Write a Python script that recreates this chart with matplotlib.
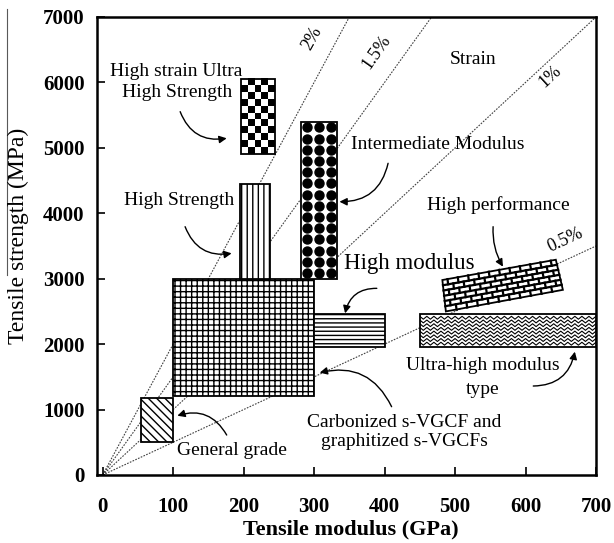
import matplotlib
matplotlib.use("Agg")
import matplotlib.pyplot as plt
from matplotlib.patches import Rectangle, Polygon
from matplotlib.lines import Line2D
import numpy as np

plt.rcParams['font.family'] = ['Liberation Serif', 'DejaVu Serif']
plt.rcParams['hatch.linewidth'] = 1.0

# box extents: [modulus min, modulus max, strength min, strength max]
general_grade = [55, 100, 500, 1180]
carbonized = [100, 300, 1200, 3000]
high_strength = [195, 237, 3000, 4450]
high_strain_uhs = [197, 245, 4900, 6050]
intermediate_modulus = [282, 332, 3000, 5400]
high_modulus = [300, 400, 1950, 2460]
ultra_high_modulus = [450, 700, 1950, 2460]
# tilted box, corners BL, BR, TR, TL
high_perf_x = [487, 653, 643, 482]
high_perf_y = [2500, 2830, 3290, 2980]

strain_pct = [2, 1.5, 1, 0.5]
strain_labels = ['2%', '1.5%', '1%', '0.5%']

x_ticks = [0, 100, 200, 300, 400, 500, 600, 700]
y_ticks = [0, 1000, 2000, 3000, 4000, 5000, 6000, 7000]

fig = plt.figure(figsize=(6.14, 5.43), dpi=100)
ax = fig.add_axes([97/614, 1-475/543, 499/614, 458/543])

# strain lines: stress [MPa] = strain * modulus [GPa] * 10
xs = np.array([0, 700])
for s in strain_pct:
    ax.plot(xs, xs*s*10, color='0.25', lw=0.8, ls=(0, (1.5, 1.2)), zorder=1)


def box(b, **kw):
    r = Rectangle((b[0], b[2]), b[1]-b[0], b[3]-b[2], facecolor='white',
                  edgecolor='black', lw=1.3, zorder=3, **kw)
    ax.add_patch(r)
    return r


box(general_grade, hatch='\\\\\\\\')
box(carbonized, hatch='+++')
box(high_strength, hatch='|||')
box(high_modulus, hatch='----')

# checkerboard
r = box(high_strain_uhs)
checker = np.indices((11, 5)).sum(axis=0) % 2
ax.imshow(checker, extent=high_strain_uhs, cmap='gray_r', interpolation='nearest',
          aspect='auto', zorder=3.5)
r.set_facecolor('none')
r.set_zorder(4)

# dots
b = intermediate_modulus
box(b)
gx = b[0] + (np.arange(3)+0.5)*(b[1]-b[0])/3
gy = b[2] + (np.arange(14)+0.5)*(b[3]-b[2])/14
mx, my = np.meshgrid(gx, gy)
ax.scatter(mx.ravel(), my.ravel(), s=42, marker='o', color='black', zorder=4)

# wavy lines
b = ultra_high_modulus
r = box(b)
rows = np.linspace(b[2], b[3], 10)[1:-1]
zx = np.arange(b[0], b[1]+5, 5)
for yy in rows:
    zy = yy + 22*np.where(np.arange(len(zx)) % 2 == 0, 1, -1)
    ln, = ax.plot(zx, zy, color='black', lw=0.8, zorder=4)
    ln.set_clip_path(r)

# bricks on the tilted box
corners = np.array([high_perf_x, high_perf_y]).T
poly = Polygon(corners, closed=True, facecolor='white', edgecolor='black', lw=1.3, zorder=3)
ax.add_patch(poly)


def bil(u, v):
    bl, br, tr, tl = corners
    return (1-u)*(1-v)*bl + u*(1-v)*br + u*v*tr + (1-u)*v*tl


nrow, ncol = 6, 11
for k in range(1, nrow):
    p = np.array([bil(0, k/nrow), bil(1, k/nrow)])
    ax.plot(p[:, 0], p[:, 1], color='black', lw=1.6, zorder=4)
for k in range(nrow):
    for j in range(ncol+1):
        u = (j + 0.5*(k % 2))/ncol
        if 0 < u < 1:
            p = np.array([bil(u, k/nrow), bil(u, (k+1)/nrow)])
            ax.plot(p[:, 0], p[:, 1], color='black', lw=1.6, zorder=4)

# labels
tk = dict(fontsize=14, ha='center', va='center', zorder=6)
ax.text(105, 6000, 'High strain Ultra\nHigh Strength', linespacing=1.3, **tk)
ax.text(109, 4190, 'High Strength', **tk)
ax.text(476, 5045, 'Intermediate Modulus', **tk)
ax.text(435, 3240, 'High modulus', fontsize=16.5, ha='center', va='center')
ax.text(562, 4127, 'High performance', **tk)
ax.text(539, 1490, 'Ultra-high modulus\ntype', linespacing=1.55, **tk)
ax.text(428, 657, 'Carbonized s-VGCF and\ngraphitized s-VGCFs', linespacing=1.15, **tk)
ax.text(183, 382, 'General grade', **tk)
ax.text(525, 6343, 'Strain', **tk)

label_pos = [(297, 6675, 61), (389, 6470, 55), (635, 6088, 43), (656, 3592, 25)]
for lab, (x, y, rot) in zip(strain_labels, label_pos):
    ax.text(x, y, lab, fontsize=13, rotation=rot, ha='center', va='center')

arrows = [((110, 5553), (176, 5146), 0.4),
          ((117, 3795), (183, 3388), 0.4),
          ((405, 4764), (336, 4177), -0.4),
          ((389, 2853), (344, 2471), 0.4),
          ((554, 3795), (568, 3184), 0.15),
          ((611, 1360), (670, 1885), 0.4),
          ((410, 1044), (308, 1564), 0.4),
          ((176, 611), (106, 906), 0.4)]
for start, end, rad in arrows:
    ax.annotate('', xy=end, xytext=start,
                arrowprops=dict(arrowstyle='-|>', connectionstyle=f'arc3,rad={rad}',
                                color='black', lw=1.0, mutation_scale=11,
                                shrinkA=0, shrinkB=0), zorder=6)

ax.set_xlim(-8, 700)
ax.set_ylim(0, 7000)
ax.set_xticks(x_ticks)
ax.set_yticks(y_ticks)
ax.tick_params(direction='in', length=6, width=1.2, top=False, right=False)
ax.tick_params(axis='x', pad=16)
ax.tick_params(axis='y', pad=9)
for t in ax.get_xticklabels() + ax.get_yticklabels():
    t.set_fontsize(15)
    t.set_fontweight('bold')
for sp in ax.spines.values():
    sp.set_linewidth(1.8)

fig.text(351/614, 1-529/543, 'Tensile modulus (GPa)', fontsize=16, fontweight='bold',
         ha='center', va='center')
fig.text(18/614, 1-236/543, 'Tensile strength (MPa)', fontsize=17, rotation=90,
         ha='center', va='center')
fig.add_artist(Line2D([7/614]*2, [1-9/543, 1-275/543], transform=fig.transFigure,
                      color='0.35', lw=0.8))

fig.savefig('out.png', dpi=100)
